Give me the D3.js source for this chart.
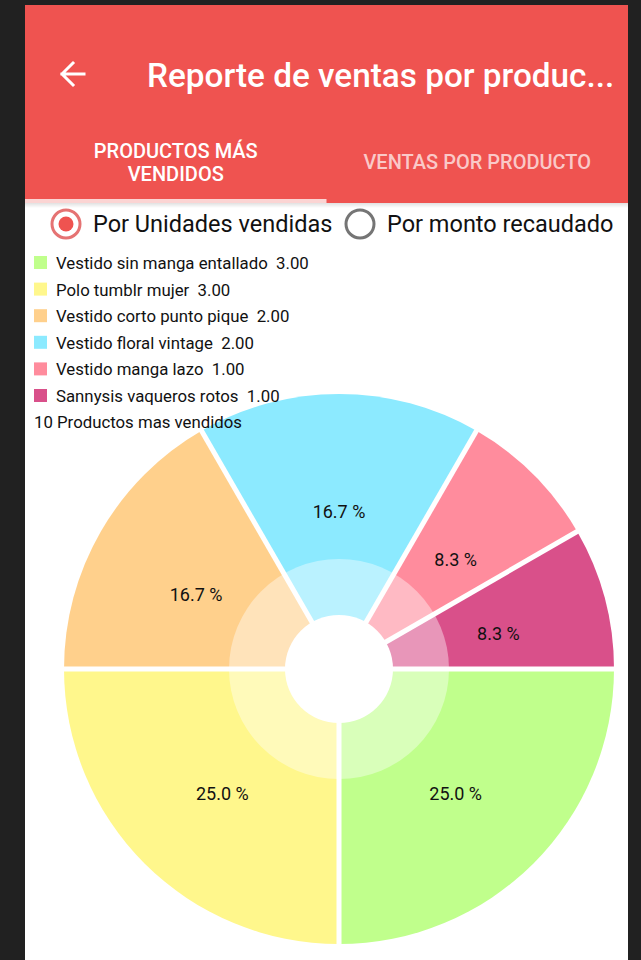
<!DOCTYPE html>
<html lang="es">
<head>
<meta charset="utf-8">
<title>Reporte de ventas por producto</title>
<script src="https://d3js.org/d3.v7.min.js"></script>
<style>
  html, body { margin: 0; padding: 0; background: #212121; }
  svg { display: block; font-family: "Roboto", "Noto Sans", sans-serif; }
  text { white-space: pre; }
</style>
</head>
<body>
<script>
// chart values
const products = ["Vestido sin manga entallado", "Polo tumblr mujer", "Vestido corto punto pique",
                  "Vestido floral vintage", "Vestido manga lazo", "Sannysis vaqueros rotos"];
const units = [3, 3, 2, 2, 1, 1];
const sliceColors = ["#c0ff8c", "#fff78c", "#ffd08c", "#8ceaff", "#ff8c9d", "#d9508a"];

const title = "Reporte de ventas por produc...";
const tabs = [["PRODUCTOS MÁS", "VENDIDOS"], ["VENTAS POR PRODUCTO"]];
const radios = ["Por Unidades vendidas", "Por monto recaudado"];
const description = "10 Productos mas vendidos";

const W = 641, H = 960;
const panelX = 25, panelW = 603;
const red = "#ef5350";

const svg = d3.select("body").append("svg")
    .attr("width", W)
    .attr("height", H);

// white app panel
svg.append("rect").attr("x", panelX).attr("y", 5).attr("width", panelW).attr("height", H - 5).attr("fill", "#fff");

// header
svg.append("rect").attr("x", panelX).attr("y", 5).attr("width", panelW).attr("height", 198).attr("fill", red);

// back arrow
const arrow = svg.append("g").attr("stroke", "#fff").attr("stroke-width", 3).attr("fill", "none")
    .attr("stroke-linecap", "square");
arrow.append("path").attr("d", "M62,74 L84,74 M62,74 L73,63 M62,74 L73,85");

svg.append("text")
    .attr("x", 147).attr("y", 87)
    .attr("fill", "#fff")
    .attr("font-size", 33.3)
    .attr("font-weight", 500)
    .text(title);

// tabs
const tabW = panelW / 2;
tabs.forEach((lines, i) => {
  const cx = panelX + tabW * i + tabW / 2;
  const y0 = lines.length > 1 ? 158 : 169;
  lines.forEach((t, j) => {
    svg.append("text")
        .attr("x", cx).attr("y", y0 + j * 23)
        .attr("text-anchor", "middle")
        .attr("font-size", 20)
        .attr("font-weight", 500)
        .attr("fill", "#fff")
        .attr("fill-opacity", i === 0 ? 1 : 0.7)
        .text(t);
  });
});
// tab indicator
svg.append("rect").attr("x", panelX).attr("y", 199).attr("width", tabW).attr("height", 4)
    .attr("fill", "#fff").attr("fill-opacity", 0.75);
// header shadow
const grad = svg.append("defs").append("linearGradient").attr("id", "sh").attr("x1", 0).attr("x2", 0).attr("y1", 0).attr("y2", 1);
grad.append("stop").attr("offset", 0).attr("stop-color", "#000").attr("stop-opacity", 0.12);
grad.append("stop").attr("offset", 1).attr("stop-color", "#000").attr("stop-opacity", 0);
svg.append("rect").attr("x", panelX).attr("y", 203).attr("width", panelW).attr("height", 5).attr("fill", "url(#sh)");

// radio buttons
const radioX = [66, 360];
radios.forEach((t, i) => {
  const g = svg.append("g").attr("transform", `translate(${radioX[i]},224)`);
  g.append("circle").attr("r", 14).attr("fill", "none")
      .attr("stroke", i === 0 ? "#e57373" : "#757575").attr("stroke-width", 3);
  if (i === 0) g.append("circle").attr("r", 7.5).attr("fill", red);
  svg.append("text")
      .attr("x", radioX[i] + 27).attr("y", 232)
      .attr("font-size", 23.5)
      .attr("fill", "#111")
      .text(t);
});

// pie
const cx = 339, cy = 669, R = 275, holeR = 54, ringR = 110, labelR = 165;
const total = d3.sum(units);
const pie = d3.pie().sort(null).value(d => d)
    .startAngle(Math.PI / 2).endAngle(Math.PI / 2 + 2 * Math.PI);
const arcs = pie(units);
const arc = d3.arc().innerRadius(0).outerRadius(R);

const chart = svg.append("g").attr("transform", `translate(${cx},${cy})`);
chart.selectAll("path.slice").data(arcs).join("path")
    .attr("class", "slice")
    .attr("d", arc)
    .attr("fill", (d, i) => sliceColors[i]);

// translucent ring and hole
chart.append("circle").attr("r", ringR).attr("fill", "#fff").attr("fill-opacity", 0.4);
chart.append("circle").attr("r", holeR).attr("fill", "#fff");

// slice gaps
chart.selectAll("line.gap").data(arcs).join("line")
    .attr("class", "gap")
    .attr("x1", 0).attr("y1", 0)
    .attr("x2", d => (R + 2) * Math.sin(d.startAngle))
    .attr("y2", d => -(R + 2) * Math.cos(d.startAngle))
    .attr("stroke", "#fff").attr("stroke-width", 5);

// value labels
chart.selectAll("text.val").data(arcs).join("text")
    .attr("class", "val")
    .attr("x", d => labelR * Math.sin((d.startAngle + d.endAngle) / 2))
    .attr("y", d => -labelR * Math.cos((d.startAngle + d.endAngle) / 2) + 14)
    .attr("text-anchor", "middle")
    .attr("font-size", 18)
    .attr("fill", "#111")
    .text(d => (d.value / total * 100).toFixed(1) + " %");

// legend (drawn over the pie)
const legend = svg.append("g").attr("transform", "translate(34,263)");
const rows = legend.selectAll("g").data(products).join("g")
    .attr("transform", (d, i) => `translate(0,${i * 26.6})`);
rows.append("rect").attr("x", 0).attr("y", -7).attr("width", 13).attr("height", 13)
    .attr("fill", (d, i) => sliceColors[i]);
rows.append("text")
    .attr("x", 22).attr("y", 6)
    .attr("font-size", 16.8)
    .attr("fill", "#111")
    .text((d, i) => d + "  " + units[i].toFixed(2));

svg.append("text")
    .attr("x", 34).attr("y", 428)
    .attr("font-size", 16.8)
    .attr("fill", "#111")
    .text(description);
</script>
</body>
</html>
